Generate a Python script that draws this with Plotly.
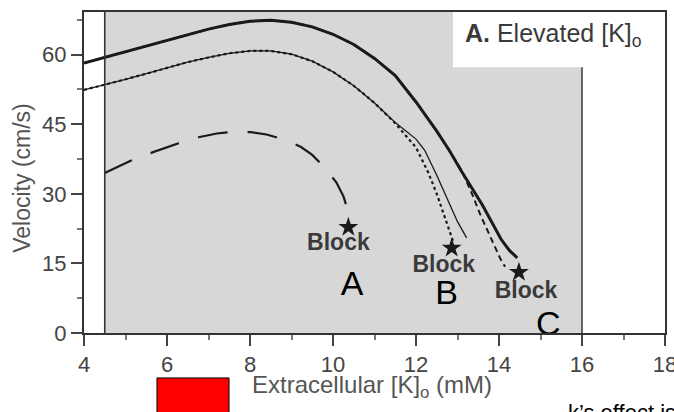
import plotly.graph_objects as go

# Conduction velocity vs extracellular potassium
k_top = [4.0, 4.5, 5.0, 5.5, 6.0, 6.5, 7.0, 7.5, 8.0, 8.5, 9.0, 9.5, 10.0, 10.5,
         11.0, 11.5, 12.0, 12.5, 12.8, 13.1, 13.4, 13.6, 13.85, 14.05, 14.25, 14.44]
v_top = [58.2, 59.4, 60.6, 61.9, 63.1, 64.3, 65.5, 66.5, 67.2, 67.4, 67.0, 66.0, 64.4, 62.2,
         59.2, 55.5, 49.8, 43.5, 39.4, 34.8, 30.5, 27.6, 23.5, 20.2, 17.8, 16.2]

k_c = [4.0, 4.5, 5.0, 5.5, 6.0, 6.5, 7.0, 7.5, 8.0, 8.5, 9.0, 9.5, 10.0, 10.5,
       11.0, 11.5, 12.0, 12.5, 12.8, 13.1, 13.35, 13.55, 13.78, 13.88, 14.07, 14.15]
v_c = [58.2, 59.4, 60.6, 61.9, 63.1, 64.3, 65.5, 66.5, 67.2, 67.4, 67.0, 66.0, 64.4, 62.2,
       59.2, 55.5, 49.8, 43.5, 39.4, 35.0, 30.0, 25.5, 20.7, 19.0, 15.3, 14.3]

k_b = [4.0, 4.5, 5.0, 5.5, 6.0, 6.5, 7.0, 7.5, 8.0, 8.5, 9.0, 9.5, 10.0, 10.5,
       11.0, 11.5, 12.0, 12.3, 12.5, 12.7, 12.9]
v_b = [52.4, 53.5, 54.7, 55.9, 57.2, 58.4, 59.4, 60.3, 60.8, 60.8, 60.1, 58.6, 56.3, 53.3,
       49.6, 45.2, 40.0, 34.5, 30.0, 25.0, 19.6]

k_b2 = [4.0, 4.5, 5.0, 5.5, 6.0, 6.5, 7.0, 7.5, 8.0, 8.5, 9.0, 9.5, 10.0, 10.5,
        11.0, 11.5, 12.0, 12.21, 12.5, 12.8, 13.0, 13.22]
v_b2 = [52.4, 53.5, 54.7, 55.9, 57.2, 58.4, 59.4, 60.3, 60.8, 60.8, 60.1, 58.6, 56.3, 53.3,
        49.6, 45.4, 41.8, 39.4, 34.0, 28.0, 24.0, 20.5]

k_a = [4.5, 5.11, 5.7, 6.28, 6.76, 7.2, 7.6, 8.02, 8.4, 8.7, 9.0, 9.23, 9.5, 9.76,
       10.08, 10.25, 10.37]
v_a = [34.5, 37.1, 39.1, 40.9, 42.2, 43.0, 43.4, 43.3, 42.8, 42.0, 41.0, 40.1, 38.4, 36.0,
       32.5, 29.5, 26.1]

block_k = [10.37, 12.86, 14.48]
block_v = [22.8, 18.3, 13.1]
block_label_k = [10.13, 12.67, 14.65]
block_label_v = [19.2, 14.4, 8.8]
letter_k = [10.46, 12.74, 15.19]
letter_v = [10.1, 8.0, 1.3]
letters = ["A", "B", "C"]

x_ticks = [4, 6, 8, 10, 12, 14, 16, 18]
y_ticks = [0, 15, 30, 45, 60]

INK = "#1a1a1a"
TXT = "#3a3a3a"
FONT = "Liberation Sans, Arial, sans-serif"

fig = go.Figure()

fig.add_trace(go.Scatter(x=k_top, y=v_top, mode="lines",
                         line=dict(color=INK, width=3), hoverinfo="skip"))
fig.add_trace(go.Scatter(x=k_c, y=v_c, mode="lines",
                         line=dict(color=INK, width=2, dash="6px,4px"), hoverinfo="skip"))
fig.add_trace(go.Scatter(x=k_b, y=v_b, mode="lines",
                         line=dict(color=INK, width=2.2, dash="dot"), hoverinfo="skip"))
fig.add_trace(go.Scatter(x=k_b2, y=v_b2, mode="lines",
                         line=dict(color=INK, width=1.3), hoverinfo="skip"))
fig.add_trace(go.Scatter(x=k_a, y=v_a, mode="lines",
                         line=dict(color=INK, width=2.2, dash="30px,20px"), hoverinfo="skip"))
fig.add_trace(go.Scatter(x=block_k, y=block_v, mode="markers",
                         marker=dict(symbol="star", size=15, color=INK), hoverinfo="skip"))
fig.add_trace(go.Scatter(x=block_label_k, y=block_label_v, mode="text",
                         text=["<b>Block</b>"] * 3,
                         textfont=dict(family=FONT, size=23, color=TXT), hoverinfo="skip"))
fig.add_trace(go.Scatter(x=letter_k, y=letter_v, mode="text", text=letters,
                         textfont=dict(family=FONT, size=34, color="#000000"), hoverinfo="skip"))

Y_TOP = 69.2
shapes = [
    # shaded range of [K]o
    dict(type="rect", xref="x", yref="y", x0=4.5, x1=16, y0=0, y1=Y_TOP,
         fillcolor="#d7d7d7", line=dict(width=0), layer="below"),
    # panel label box
    dict(type="rect", xref="x", yref="y", x0=12.89, x1=18, y0=57.3, y1=Y_TOP,
         fillcolor="#ffffff", line=dict(width=0), layer="below"),
    dict(type="line", xref="x", yref="y", x0=4.5, x1=4.5, y0=0, y1=Y_TOP,
         line=dict(color="#333333", width=1.6)),
    dict(type="line", xref="x", yref="y", x0=16, x1=16, y0=0, y1=57.3,
         line=dict(color="#444444", width=1.6)),
    # legend swatch
    dict(type="rect", xref="paper", yref="paper", x0=0.1256, x1=0.2496, y0=-0.140, y1=-0.27,
         fillcolor="#ff0000", line=dict(color="#000000", width=1)),
]

annotations = [
    dict(xref="x", yref="y", x=13.13, y=64.3, xanchor="left", yanchor="middle",
         text="<b>A.</b> Elevated [K]<sub>o</sub>", showarrow=False,
         font=dict(family=FONT, size=25, color=TXT)),
    dict(xref="paper", yref="paper", x=-0.107, y=0.483, xanchor="center", yanchor="middle",
         text="Velocity (cm/s)", textangle=-90, showarrow=False,
         font=dict(family=FONT, size=23, color="#555555")),
    dict(xref="paper", yref="paper", x=0.286, y=-0.168, xanchor="left", yanchor="middle",
         text="Extracellular [K]<sub>o</sub> (mM)", showarrow=False,
         font=dict(family=FONT, size=24, color="#555555")),
    dict(xref="paper", yref="paper", x=0.83, y=-0.203, xanchor="left", yanchor="top",
         text="k\u2019s effect is", showarrow=False,
         font=dict(family=FONT, size=22, color="#000000")),
]

fig.update_layout(
    width=674, height=412,
    margin=dict(l=84, r=9, t=12, b=79),
    paper_bgcolor="#ffffff", plot_bgcolor="#ffffff",
    showlegend=False,
    shapes=shapes,
    annotations=annotations,
    font=dict(family=FONT, color=TXT),
)
fig.update_xaxes(
    range=[4, 18], tickvals=x_ticks, ticks="outside", ticklen=11, tickwidth=1.5,
    tickcolor="#444444", showgrid=False, zeroline=False,
    showline=True, linecolor="#333333", linewidth=2, mirror=True,
    ticklabeloverflow="allow", automargin=False,
    tickfont=dict(family=FONT, size=22, color="#444444"),
    minor=dict(ticks="outside", ticklen=5, dtick=1, tickcolor="#777777", showgrid=False),
)
fig.update_yaxes(
    range=[0, Y_TOP], tickvals=y_ticks, ticks="outside", ticklen=11, tickwidth=1.5,
    tickcolor="#444444", showgrid=False, zeroline=False,
    showline=True, linecolor="#333333", linewidth=2, mirror=True, automargin=False,
    tickfont=dict(family=FONT, size=22, color="#444444"),
    minor=dict(ticks="outside", ticklen=5, dtick=7.5, tickcolor="#777777", showgrid=False),
)

fig.write_html("out.html")
